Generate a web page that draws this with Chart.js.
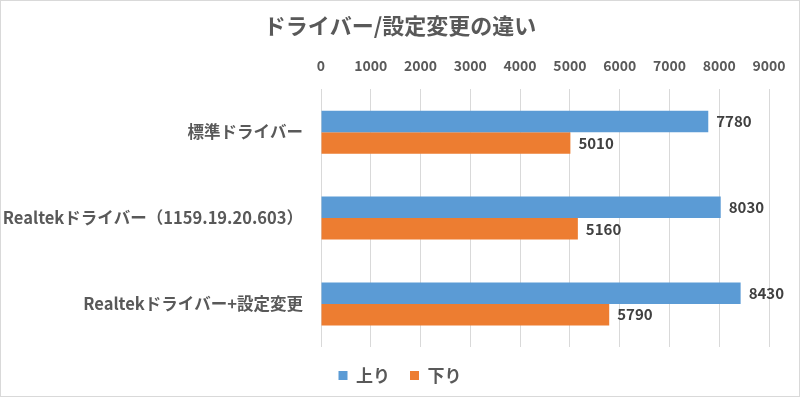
<!DOCTYPE html>
<html>
<head>
<meta charset="utf-8">
<script src="https://cdn.jsdelivr.net/npm/chart.js@4"></script>
<style>
  html, body { margin: 0; padding: 0; background: #fff; }
  #wrap { width: 798px; height: 395px; border: 1px solid #d9d9d9; }
</style>
</head>
<body>
<div id="wrap"><canvas id="barChart" width="798" height="395"></canvas></div>
<script>
const categories = ["標準ドライバー", "Realtekドライバー（1159.19.20.603）", "Realtekドライバー+設定変更"];
const upValues = [7780, 8030, 8430];
const downValues = [5010, 5160, 5790];
const seriesNames = ["上り", "下り"];

const FONT = "'Noto Sans CJK JP', 'Noto Sans', sans-serif";
const textColor = "#595959";

// value labels at bar ends
const valueLabels = {
  id: "valueLabels",
  afterDatasetsDraw(chart) {
    const ctx = chart.ctx;
    ctx.save();
    ctx.font = "bold 15px " + FONT;
    ctx.fillStyle = "#404040";
    ctx.textAlign = "left";
    ctx.textBaseline = "middle";
    chart.data.datasets.forEach((ds, i) => {
      chart.getDatasetMeta(i).data.forEach((bar, j) => {
        ctx.fillText(ds.data[j], bar.x + 8, bar.y);
      });
    });
    ctx.restore();
  }
};

new Chart(document.getElementById("barChart"), {
  type: "bar",
  data: {
    labels: categories,
    datasets: [{
      label: seriesNames[0],
      data: upValues,
      backgroundColor: "#5B9BD5",
      borderWidth: 0
    }, {
      label: seriesNames[1],
      data: downValues,
      backgroundColor: "#ED7D31",
      borderWidth: 0
    }]
  },
  options: {
    indexAxis: "y",
    responsive: false,
    animation: false,
    layout: { padding: { left: 0, right: 0, bottom: 2 } },
    datasets: { bar: { categoryPercentage: 0.5, barPercentage: 1.0 } },
    plugins: {
      title: {
        display: true,
        text: "ドライバー/設定変更の違い",
        color: textColor,
        font: { family: FONT, size: 22, weight: "bold" },
        padding: { top: 11, bottom: 4 }
      },
      legend: {
        position: "bottom",
        labels: {
          color: textColor,
          font: { family: FONT, size: 17, weight: "bold" },
          boxWidth: 9,
          boxHeight: 9,
          padding: 20
        }
      },
      tooltip: { enabled: false }
    },
    scales: {
      x: {
        position: "top",
        min: 0,
        max: 9000,
        ticks: {
          stepSize: 1000,
          color: textColor,
          font: { family: FONT, size: 14, weight: "bold" },
          padding: 15,
          callback: v => String(v)
        },
        grid: { color: "#d9d9d9", drawTicks: false },
        border: { display: false },
        afterFit(scale) { scale.paddingRight = 30; }
      },
      y: {
        ticks: {
          color: textColor,
          font: { family: FONT, size: 16.5, weight: "bold" },
          padding: 18
        },
        grid: { display: false, drawTicks: false },
        border: { display: false },
        afterFit(scale) { scale.width = 320; }
      }
    }
  },
  plugins: [valueLabels]
});
</script>
</body>
</html>
